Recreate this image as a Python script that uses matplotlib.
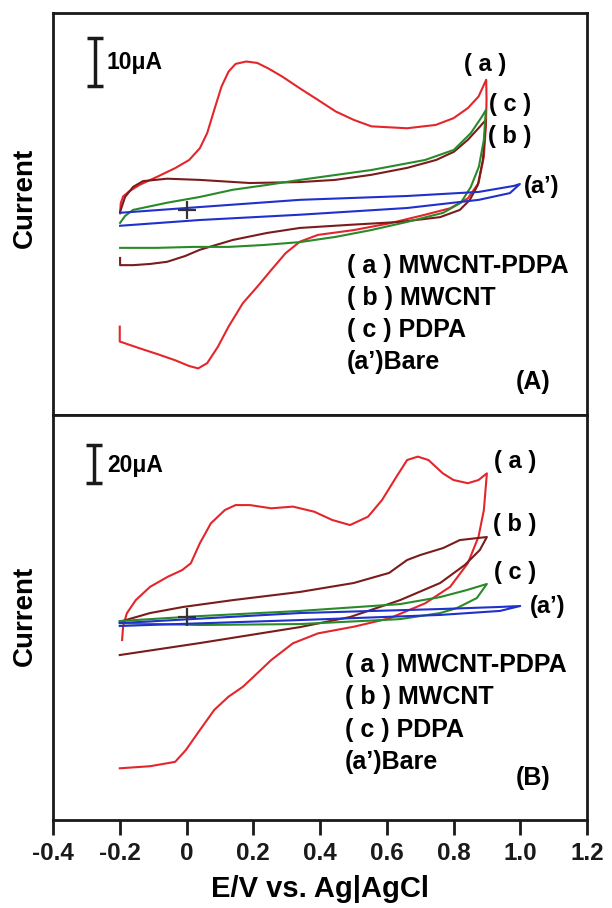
import matplotlib
matplotlib.use("Agg")
import matplotlib.pyplot as plt

plt.rcParams['font.family'] = ['Liberation Sans', 'DejaVu Sans']
plt.rcParams['font.weight'] = 'bold'

# ---------------- Panel A data (E in V, I in uA) ----------------
A_a_E = [-0.200, -0.200, -0.141, -0.088, -0.034, 0.008, 0.035, 0.062, 0.094, 0.126, 0.169, 0.212,
         0.254, 0.297, 0.340, 0.394, 0.501, 0.608, 0.715, 0.790, 0.843, 0.875, 0.891, 0.897, 0.899, 0.898,
         0.875, 0.843, 0.800, 0.747, 0.661, 0.554, 0.501, 0.447, 0.394, 0.340, 0.286, 0.244, 0.212,
         0.179, 0.147, 0.126, 0.105, 0.083, 0.062, 0.040, 0.008, -0.034, -0.088, -0.141, -0.173,
         -0.190, -0.197, -0.199]
A_a_I = [-24.3, -27.4, -28.8, -30.0, -31.3, -32.5, -33.0, -31.9, -28.5, -24.3, -19.4, -16.0,
         -12.5, -9.0, -6.6, -5.2, -4.2, -2.8, -1.0, 0.35, 2.4, 5.6, 11.1, 17.4, 22.9, 27.1,
         23.6, 21.2, 19.1, 17.7, 17.0, 17.4, 18.75, 20.5, 22.9, 25.3, 27.8, 29.5, 30.6,
         30.9, 30.4, 28.8, 25.7, 20.8, 16.0, 12.85, 10.4, 8.7, 6.9, 5.2, 3.8,
         2.8, 1.4, -0.7]

A_b_E = [-0.199, -0.199, -0.160, -0.109, -0.058, -0.004, 0.040, 0.139, 0.241, 0.340, 0.490, 0.640,
         0.760, 0.819, 0.849, 0.873, 0.888, 0.897,
         0.876, 0.843, 0.801, 0.748, 0.661, 0.553, 0.445, 0.340, 0.190, 0.040, -0.058, -0.130,
         -0.160, -0.184, -0.199]
A_b_I = [-10.0, -11.5, -11.5, -11.25, -10.8, -9.6, -8.3, -6.25, -4.8, -3.75, -3.1, -2.5,
         -1.5, 0.0, 2.1, 5.2, 10.4, 18.75,
         17.1, 14.6, 12.1, 10.4, 8.75, 7.3, 6.25, 5.8, 5.6, 6.25, 6.5, 6.0,
         4.8, 2.7, -0.4]

A_c_E = [-0.199, -0.088, 0.019, 0.127, 0.232, 0.340, 0.448, 0.553, 0.661, 0.769, 0.822, 0.852,
         0.876, 0.891, 0.897,
         0.885, 0.852, 0.801, 0.715, 0.553, 0.340, 0.241, 0.139, 0.040, -0.058, -0.160, -0.184, -0.199]
A_c_I = [-7.9, -7.9, -7.7, -7.7, -7.3, -6.7, -5.6, -4.2, -2.5, -0.6, 1.5, 4.8,
         9.0, 14.6, 20.8,
         19.4, 16.0, 12.5, 10.4, 8.3, 6.25, 5.2, 4.2, 2.7, 1.5, 0.0, -1.25, -2.7]

A_d_E = [-0.199, 0.040, 0.340, 0.661, 0.876, 0.969, 0.999, 0.981, 0.876, 0.661, 0.340, 0.040, -0.199]
A_d_I = [-3.3, -2.1, -1.0, 0.4, 2.1, 3.5, 5.4, 5.0, 3.75, 2.9, 2.1, 0.6, -0.6]

# ---------------- Panel B data (E in V, I in uA) ----------------
B_a_E = [-0.200, -0.109, -0.034, -0.002, 0.040, 0.083, 0.126, 0.169, 0.212, 0.254, 0.319, 0.394,
         0.501, 0.608, 0.715, 0.790, 0.843, 0.875, 0.891, 0.900,
         0.875, 0.843, 0.800, 0.768, 0.725, 0.693, 0.661, 0.629, 0.586, 0.544, 0.490, 0.436,
         0.383, 0.319, 0.254, 0.190, 0.147, 0.115, 0.073, 0.040, 0.013, -0.013, -0.056, -0.109,
         -0.152, -0.179, -0.190, -0.193]
B_a_I = [-79.6, -78.5, -76.2, -70.0, -59.5, -48.9, -41.9, -36.7, -29.6, -22.6, -13.8, -8.6,
         -5.1, -0.7, 7.2, 15.9, 28.3, 42.3, 56.3, 75.6,
         72.1, 70.4, 72.1, 75.6, 82.6, 84.4, 82.6, 73.8, 61.6, 52.8, 48.4, 51.1,
         55.4, 58.1, 57.2, 58.9, 58.9, 56.3, 49.3, 38.8, 28.3, 24.7, 21.2, 15.9,
         8.9, 1.9, -5.1, -12.1]

B_b_E = [-0.200, 0.040, 0.340, 0.490, 0.640, 0.760, 0.834, 0.879, 0.900,
         0.819, 0.769, 0.700, 0.661, 0.607, 0.501, 0.340, 0.139, -0.010, -0.109, -0.200]
B_b_I = [-20.0, -13.7, -5.3, 0.0, 8.9, 17.9, 27.4, 35.3, 42.1,
         40.5, 36.3, 32.6, 30.0, 23.2, 17.9, 13.2, 8.9, 5.3, 2.1, -2.5]

B_c_E = [-0.200, 0.040, 0.340, 0.640, 0.760, 0.810, 0.870, 0.900,
         0.840, 0.760, 0.640, 0.340, 0.040, -0.200]
B_c_I = [-3.2, -4.2, -3.7, -1.1, 2.1, 4.7, 10.0, 17.4,
         14.2, 10.5, 6.8, 3.2, 0.5, -2.1]

B_d_E = [-0.200, 0.340, 0.760, 0.939, 1.000, 0.939, 0.760, 0.340, -0.200]
B_d_I = [-4.7, -1.6, 1.1, 3.2, 5.8, 5.3, 4.2, 2.1, -3.2]

x_ticks = [-0.4, -0.2, 0, 0.2, 0.4, 0.6, 0.8, 1.0, 1.2]
x_tick_labels = ['-0.4', '-0.2', '0', '0.2', '0.4', '0.6', '0.8', '1.0', '1.2']
legend_lines = ['( a ) MWCNT-PDPA', '( b ) MWCNT', '( c ) PDPA', '(a\u2019)Bare']

C_RED = '#e3262c'
C_BROWN = '#7a1c1c'
C_GREEN = '#2a8a2a'
C_BLUE = '#2030cc'
C_INK = '#1a1a1a'

W, H = 612, 908
fig = plt.figure(figsize=(W / 100, H / 100), dpi=100)


def fx(px):
    return px / W


def fy(py):
    return 1 - py / H


axA = fig.add_axes([fx(53), fy(415), fx(587) - fx(53), fy(13) - fy(415)])
axB = fig.add_axes([fx(53), fy(820), fx(587) - fx(53), fy(415) - fy(820)])

lw = 1.5
axA.plot(A_a_E, A_a_I, color=C_RED, lw=lw)
axA.plot(A_b_E, A_b_I, color=C_BROWN, lw=lw)
axA.plot(A_c_E, A_c_I, color=C_GREEN, lw=lw)
axA.plot(A_d_E, A_d_I, color=C_BLUE, lw=lw)

axB.plot(B_a_E, B_a_I, color=C_RED, lw=lw)
axB.plot(B_b_E, B_b_I, color=C_BROWN, lw=lw)
axB.plot(B_c_E, B_c_I, color=C_GREEN, lw=lw)
axB.plot(B_d_E, B_d_I, color=C_BLUE, lw=lw)

axA.set_xlim(-0.4, 1.2)
axB.set_xlim(-0.4, 1.2)
axA.set_ylim(-42.7, 41.0)
axB.set_ylim(-106.8, 106.3)

for ax in (axA, axB):
    for s in ax.spines.values():
        s.set_linewidth(2.0)
        s.set_color(C_INK)
    ax.set_yticks([])
    # origin cross
    ax.plot([0], [0], marker='+', markersize=13, mew=1.6, color='#333333')

axA.set_xticks([])
axB.set_xticks(x_ticks)
axB.set_xticklabels(x_tick_labels, fontsize=17.5, fontweight='bold')
axB.tick_params(axis='x', direction='out', length=11, width=2, pad=5, colors=C_INK)
axB.set_xlabel('E/V vs. Ag|AgCl', fontsize=21, fontweight='bold', labelpad=7)

# scale bars
axA.errorbar([-0.274], [30.8], yerr=[5.0], color=C_INK, capsize=6, elinewidth=2.5, capthick=2.5)
axB.errorbar([-0.277], [80.5], yerr=[10.0], color=C_INK, capsize=6, elinewidth=2.5, capthick=2.5)

fs = 17
fig.text(fx(106), fy(63), '10\u03bcA', fontsize=16.5, fontweight='bold', va='center', ha='left')
fig.text(fx(107), fy(465), '20\u03bcA', fontsize=16.5, fontweight='bold', va='center', ha='left')

fig.text(fx(25), fy(198), 'Current', rotation=90, fontsize=20, fontweight='bold', va='center', ha='center')
fig.text(fx(25), fy(616), 'Current', rotation=90, fontsize=20, fontweight='bold', va='center', ha='center')

# curve labels panel A
fig.text(fx(485), fy(64), '( a )', fontsize=fs, fontweight='bold', ha='center', va='center')
fig.text(fx(510), fy(104), '( c )', fontsize=fs, fontweight='bold', ha='center', va='center')
fig.text(fx(510), fy(136), '( b )', fontsize=fs, fontweight='bold', ha='center', va='center')
fig.text(fx(542), fy(186), '(a\u2019)', fontsize=fs, fontweight='bold', ha='center', va='center')

# curve labels panel B
fig.text(fx(515), fy(462), '( a )', fontsize=fs, fontweight='bold', ha='center', va='center')
fig.text(fx(515), fy(525), '( b )', fontsize=fs, fontweight='bold', ha='center', va='center')
fig.text(fx(515), fy(572), '( c )', fontsize=fs, fontweight='bold', ha='center', va='center')
fig.text(fx(548), fy(607), '(a\u2019)', fontsize=fs, fontweight='bold', ha='center', va='center')

# legend blocks
for i, t in enumerate(legend_lines):
    fig.text(fx(347), fy(266 + i * 32), t, fontsize=18, fontweight='bold', ha='left', va='center')
    fig.text(fx(345), fy(665 + i * 32.3), t, fontsize=18, fontweight='bold', ha='left', va='center')

fig.text(fx(533), fy(382), '(A)', fontsize=18, fontweight='bold', ha='center', va='center')
fig.text(fx(533), fy(778), '(B)', fontsize=18, fontweight='bold', ha='center', va='center')

fig.savefig('out.png', dpi=100)
